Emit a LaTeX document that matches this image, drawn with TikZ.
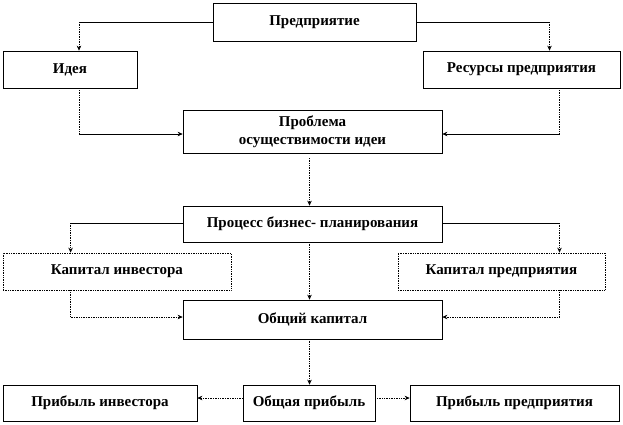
\documentclass[tikz,border=0pt]{standalone}
\usepackage{fontspec}
\setmainfont{Liberation Serif}
\usetikzlibrary{arrows.meta}
\begin{document}
\begin{tikzpicture}[x=1pt,y=-1pt,
  box/.style={draw,line width=0.7pt,inner sep=0pt,align=center,font=\fontsize{15}{18}\selectfont\bfseries},
  dbox/.style={box,densely dotted},
  sl/.style={line width=0.7pt},
  dl/.style={line width=0.7pt,densely dotted},
  arr/.style={-{Stealth[length=5pt,width=4.5pt]}}]
\useasboundingbox (0,0) rectangle (623,424);
\node[box,minimum width=203pt,minimum height=38pt] (pred) at (314.5,22) {Предприятие};
\node[box,minimum width=134pt,minimum height=37pt] (idea) at (70,69.5) {Идея};
\node[box,minimum width=197pt,minimum height=37pt] (res) at (521.5,69.5) {Ресурсы предприятия};
\node[box,minimum width=259pt,minimum height=43pt] (prob) at (312.5,131.5) {Проблема\\осуществимости идеи};
\node[box,minimum width=259pt,minimum height=36pt] (proc) at (312.5,224) {Процесс бизнес- планирования};
\node[dbox,minimum width=228pt,minimum height=37pt] (kinv) at (117,271.5) {Капитал инвестора};
\node[dbox,minimum width=207pt,minimum height=37pt] (kpred) at (501.5,271.5) {Капитал предприятия};
\node[box,minimum width=259pt,minimum height=39pt] (obk) at (312.5,319.5) {Общий капитал};
\node[box,minimum width=132pt,minimum height=36pt] (obp) at (309,403) {Общая прибыль};
\node[box,minimum width=194pt,minimum height=36pt] (pinv) at (100,403) {Прибыль инвестора};
\node[box,minimum width=209pt,minimum height=36pt] (ppred) at (514.5,403) {Прибыль предприятия};
% Предприятие -> Идея / Ресурсы
\coordinate (c1) at (79,22);
\coordinate (c2) at (549.5,22);
\draw[sl] (pred.west) -- (c1);
\draw[dl,arr] (c1) -- (c1 |- idea.north);
\draw[sl] (pred.east) -- (c2);
\draw[dl,arr] (c2) -- (c2 |- res.north);
% Идея / Ресурсы -> Проблема
\coordinate (c3) at (79,134);
\coordinate (c4) at (559.5,134);
\draw[dl] (c3 |- idea.south) -- (c3);
\draw[sl,arr] (c3) -- (c3 -| prob.west);
\draw[dl] (c4 |- res.south) -- (c4);
\draw[sl,arr] (c4) -- (c4 -| prob.east);
% Проблема -> Процесс
\coordinate (c5) at (309.5,158);
\draw[dl,arr] (c5) -- (c5 |- proc.north);
% Процесс -> Капиталы
\coordinate (c6) at (70.6,223);
\coordinate (c7) at (559.5,223);
\draw[sl] (c6 -| proc.west) -- (c6);
\draw[dl,arr] (c6) -- (c6 |- kinv.north);
\draw[sl] (c7 -| proc.east) -- (c7);
\draw[dl,arr] (c7) -- (c7 |- kpred.north);
% Процесс -> Общий капитал
\coordinate (c8) at (309.5,242);
\draw[dl,arr] (c8) -- (c8 |- obk.north);
% Капиталы -> Общий капитал
\coordinate (c9) at (70.6,317);
\coordinate (c10) at (559.5,317);
\draw[dl] (c9 |- kinv.south) -- (c9);
\draw[dl,arr] (c9) -- (c9 -| obk.west);
\draw[dl] (c10 |- kpred.south) -- (c10);
\draw[dl,arr] (c10) -- (c10 -| obk.east);
% Общий капитал -> Общая прибыль
\coordinate (c11) at (309.5,339);
\draw[dl,arr] (c11) -- (c11 |- obp.north);
% Общая прибыль -> прибыли
\coordinate (c12) at (309,398);
\draw[dl,arr] (c12 -| obp.west) -- (c12 -| pinv.east);
\draw[dl,arr] (c12 -| obp.east) -- (c12 -| ppred.west);
\end{tikzpicture}
\end{document}
